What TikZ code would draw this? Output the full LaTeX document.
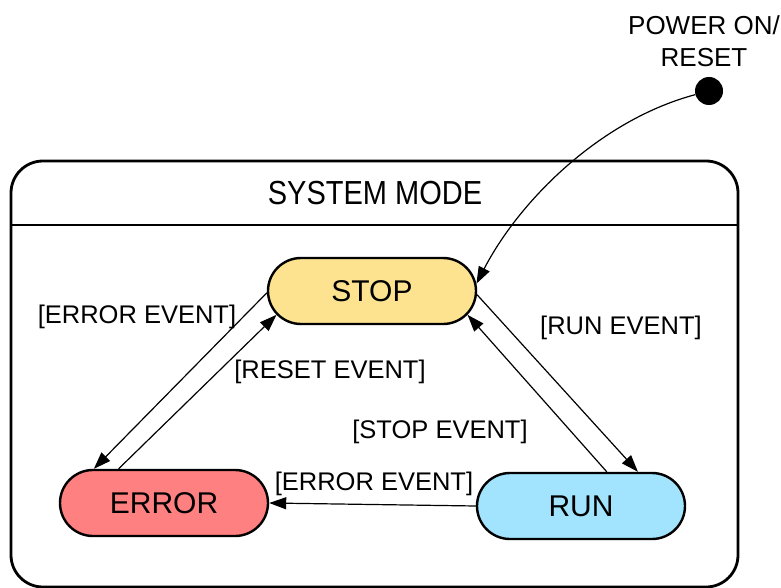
\documentclass[tikz,border=0pt]{standalone}
\usepackage{fontspec}
\setmainfont{Liberation Sans}
\usetikzlibrary{shapes.misc,arrows.meta}
\definecolor{stopfill}{HTML}{FDE38F}
\definecolor{errfill}{HTML}{FF8080}
\definecolor{runfill}{HTML}{A2E4FD}
\tikzset{
  state/.style={rounded rectangle, draw=black, line width=2.4pt, minimum width=208pt, minimum height=66pt, inner sep=0pt, font=\fontsize{30}{34}\selectfont},
  lbl/.style={font=\fontsize{25.5}{28}\selectfont, inner sep=0pt},
  conn/.style={line width=1.2pt, -{Triangle[length=17pt,width=12pt]}},
}
\begin{document}
\begin{tikzpicture}[x=1pt,y=-1pt]
\useasboundingbox (0,0) rectangle (781,588);
% frame
\draw[line width=2.8pt, rounded corners=32pt] (11,161) rectangle (738,587);
\draw[line width=2.8pt] (11,225) -- (738,225);
\node[font=\fontsize{29}{32}\selectfont, inner sep=0pt] (title) at (375,193) {\scalebox{1}[1.15]{SYSTEM MODE}};
% states
\node[state, fill=stopfill] (STOP) at (372,291) {STOP};
\node[state, fill=errfill] (ERROR) at (164,503) {ERROR};
\node[state, fill=runfill] (RUN) at (581,506) {RUN};
% initial
\node[circle, fill=black, minimum size=28pt, inner sep=0pt] (dot) at (709,91) {};
\node[align=center, font=\fontsize{26}{32}\selectfont, inner sep=0pt] (power) at (704,41) {POWER ON/\\RESET};
\draw[conn] (dot) .. controls +(-109,29) and +(43,-83) .. (STOP.4);
% transitions
\draw[conn] (STOP.181) -- (ERROR.154);
\draw[conn] (ERROR.143) -- (STOP.194);
\draw[conn] (STOP.358) -- (RUN.31);
\draw[conn] (RUN.53) -- (STOP.346);
\draw[conn] (RUN.west) -- (ERROR.east);
% labels
\node[lbl] (l1) at (137,317) {[ERROR EVENT]};
\node[lbl] (l2) at (330,372) {[RESET EVENT]};
\node[lbl] (l3) at (621,328) {[RUN EVENT]};
\node[lbl] (l4) at (440,432) {[STOP EVENT]};
\node[lbl] (l5) at (374,484) {[ERROR EVENT]};
\end{tikzpicture}
\end{document}
